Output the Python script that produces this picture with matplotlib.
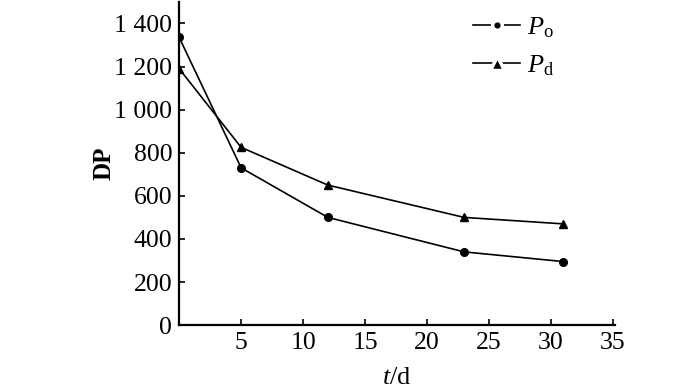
import matplotlib
matplotlib.use("Agg")
import matplotlib.pyplot as plt
from matplotlib.lines import Line2D

# data
t_days = [0, 5, 12, 23, 31]
dp_po = [1335, 730, 500, 340, 295]
dp_pd = [1190, 825, 650, 500, 470]
x_ticks = [5, 10, 15, 20, 25, 30, 35]
y_ticks = [0, 200, 400, 600, 800, 1000, 1200, 1400]
y_tick_labels = ["0", "200", "400", "600", "800", "1 000", "1 200", "1 400"]

plt.rcParams["font.family"] = ["Liberation Serif", "DejaVu Serif"]
plt.rcParams["mathtext.fontset"] = "custom"
plt.rcParams["mathtext.it"] = "Liberation Serif:italic"
plt.rcParams["mathtext.rm"] = "Liberation Serif"

fig = plt.figure(figsize=(7, 3.88), dpi=100)
ax = fig.add_axes([0.256, 0.162, 0.623, 0.833])

ax.plot(t_days, dp_po, color="black", lw=1.2, marker="o", ms=5.5)
ax.plot(t_days, dp_pd, color="black", lw=1.2, marker="^", ms=5.5)

ax.set_xlim(0, 35.2)
ax.set_ylim(0, 1500)
ax.set_xticks(x_ticks)
ax.set_yticks(y_ticks)
ax.set_yticklabels(y_tick_labels)
ax.tick_params(axis="both", direction="in", length=4, width=1.2, labelsize=18.5, pad=5)

for side in ["top", "right"]:
    ax.spines[side].set_visible(False)
for side in ["left", "bottom"]:
    ax.spines[side].set_linewidth(1.6)

ax.set_xlabel(r"$t$/d", fontsize=19, labelpad=9)
ax.set_ylabel("DP", fontsize=18, fontweight="bold", labelpad=-1)

# legend handles with small gaps around the marker, as in the original
handles = [
    Line2D([], [], color="black", lw=1.2, marker="o", ms=7, mfc="black", mec="white", mew=2.5),
    Line2D([], [], color="black", lw=1.2, marker="^", ms=9.5, mfc="black", mec="white", mew=2.5),
]
labels = [r"$P_{\mathrm{o}}$", r"$P_{\mathrm{d}}$"]
ax.legend(handles, labels, loc="upper left", bbox_to_anchor=(0.649, 0.99), frameon=False,
          fontsize=19, handlelength=1.8, handletextpad=0.25, labelspacing=0.5,
          borderaxespad=0)

fig.savefig("out.png", dpi=100)
